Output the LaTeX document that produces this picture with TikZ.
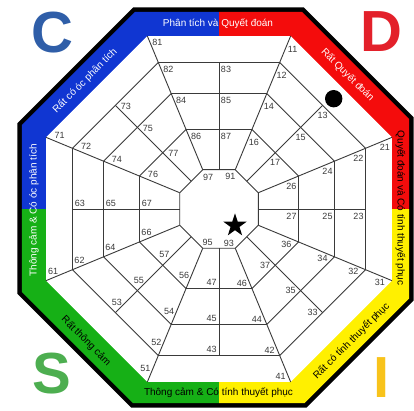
\documentclass[tikz,border=0pt]{standalone}
\usepackage{fontspec}
\setmainfont{Liberation Sans}
\usetikzlibrary{shapes.geometric}
\definecolor{bandblue}{HTML}{1036D2}
\definecolor{bandred}{HTML}{F40C0C}
\definecolor{bandyellow}{HTML}{FFF000}
\definecolor{bandgreen}{HTML}{16B016}
\definecolor{letterblue}{HTML}{2F5EA8}
\definecolor{letterred}{HTML}{E3202A}
\definecolor{lettergreen}{HTML}{4DAE50}
\definecolor{letteryellow}{HTML}{F8C31B}
\definecolor{gridgray}{HTML}{3A3A3A}

\begin{document}
\begin{tikzpicture}[x=1pt, y=1pt,
        grid/.style={draw=gridgray, line width=0.9pt},
        num/.style={font=\fontsize{9}{9}\selectfont, text=gridgray, inner sep=0pt},
        bandtext/.style={font=\fontsize{10}{10}\selectfont, inner sep=0pt},
        letter/.style={font=\fontsize{58}{58}\selectfont\bfseries, inner sep=0pt}
      ]
        \useasboundingbox (-219,-202) rectangle (195,209);

        % outer frame
        \coordinate (o1) at (-84,197);   \coordinate (o2) at (83,197);
        \coordinate (o3) at (190,90);    \coordinate (o4) at (190,-89.7);
        \coordinate (o5) at (85.7,-194); \coordinate (o6) at (-86,-194);
        \coordinate (o7) at (-197,-83);  \coordinate (o8) at (-197,84);
        \draw[line width=9pt, line join=miter]
          (o1) -- (o2) -- (o3) -- (o4) -- (o5) -- (o6) -- (o7) -- (o8) -- cycle;
        \begin{scope}
          \clip (o1) -- (o2) -- (o3) -- (o4) -- (o5) -- (o6) -- (o7) -- (o8) -- cycle;
          \fill[bandblue] (-210,0) rectangle (0,210);
          \fill[bandred] (0,0) rectangle (210,210);
          \fill[bandyellow] (0,0) rectangle (210,-210);
          \fill[bandgreen] (-210,0) rectangle (0,-210);
        \end{scope}

        % grid points
        \foreach \k in {1,...,8}{
          \pgfmathsetmacro\r{112.5-45*\k}
          \pgfmathsetmacro\a{90-45*\k}
          \coordinate (p\k1) at (\r:187.25);
          \coordinate (p\k2) at (\r:158.57);
          \coordinate (p\k4) at (\r:125.02);
          \coordinate (p\k6) at (\r:86.05);
          \coordinate (s\k) at (\r:42.54);
          \coordinate (p\k3) at (\a:146.5);
          \coordinate (p\k5) at (\a:115.5);
          \coordinate (p\k7) at (\a:79.5);
          \coordinate (m\k) at (\a:39.3);
        }
        \fill[white] (p11) \foreach \k in {2,...,8}{-- (p\k1)} -- cycle;
        \draw[grid] (p12) \foreach \k in {2,...,8}{-- (p\k2)} -- cycle;
        \draw[grid] (p14) \foreach \k in {2,...,8}{-- (p\k4)} -- cycle;
        \draw[grid] (p16) \foreach \k in {2,...,8}{-- (p\k6)} -- cycle;
        \draw[grid] (s1) \foreach \k in {2,...,8}{-- (s\k)} -- cycle;
        \foreach \k in {1,...,8}{
          \draw[grid] (p\k1) -- (s\k);
          \draw[grid] (p\k3) -- (m\k);
        }

        % numbers
        \foreach \k/\rx/\ry/\ax/\ay in {1/2/-13/0/-10, 2/-7/-10.5/-7/-7,
            3/-12/-2/-10/0, 4/-10/5.5/-7.3/5.7, 5/-2/13.5/1.5/10.3,
            6/7/9.5/7.3/5.7, 7/13.5/1.5/10.5/-1, 8/10/-6.5/7/-6.5}{
          \foreach \i in {1,2,4,6}
            \node[num] (n\k\i) at ([shift={(\rx,\ry)}]p\k\i) {\k\i};
          \foreach \i in {3,5,7}
            \node[num] (n\k\i) at ([shift={(\ax,\ay)}]p\k\i) {\k\i};
        }
        \node[num] (n91) at ([shift={(-5,-6.6)}]s1) {91};
        \node[num] (n93) at ([shift={(-6.3,5.3)}]s4) {93};
        \node[num] (n95) at ([shift={(4.8,5.8)}]s5) {95};
        \node[num] (n97) at ([shift={(5.3,-7.8)}]s8) {97};

        \node[star, star points=5, star point ratio=2.6, fill=black,
              minimum size=24.4pt, inner sep=0pt] (mark) at (16,-16.5) {};
        \node[circle, fill=black, minimum size=17.4pt, inner sep=0pt] (dot) at (114.7,110.3) {};

        % band texts
        \node[bandtext, text=white] (t8) at (-1,185.5) {Phân tích và Quyết đoán};
        \node[bandtext, text=white, rotate=-45] (t1) at (128.5,134) {Rất Quyết đoán};
        \node[bandtext, rotate=-90] (t2) at (181.4,1) {Quyết đoán và Có tính thuyết phục};
        \node[bandtext, rotate=45] (t3) at (132.5,-132) {Rất có tính thuyết phục};
        \node[bandtext] (t4) at (-0.5,-183.5) {Thông cảm \& Có tính thuyết phục};
        \node[bandtext, rotate=-45] (t5) at (-133,-132) {Rất thông cảm};
        \node[bandtext, text=white, rotate=90] (t6) at (-185,-1.5) {Thông cảm \& Có óc phân tích};
        \node[bandtext, text=white, rotate=45] (t7) at (-134,128) {Rất có óc phân tích};

        % corner letters
        \node[letter, text=letterblue] (C) at (-166.5,176.5) {C};
        \node[letter, text=letterred] (D) at (162,177.5) {D};
        \node[letter, text=lettergreen] (S) at (-167.5,-165) {S};
        \node[letter, text=letteryellow] (I) at (163,-168.5) {I};
      \end{tikzpicture}
\end{document}
